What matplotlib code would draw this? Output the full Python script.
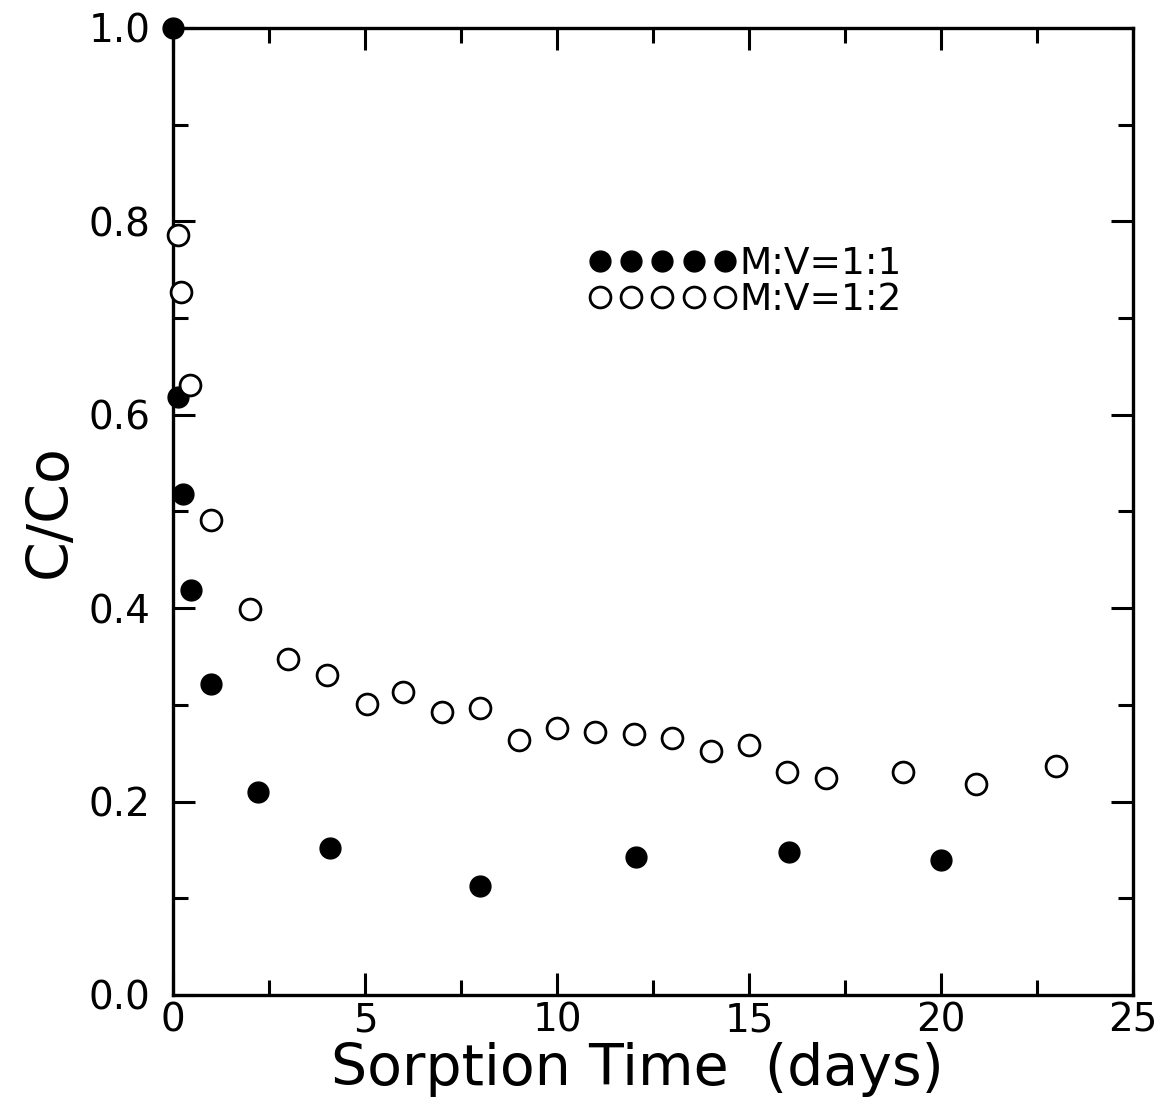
import matplotlib
matplotlib.use("Agg")
import matplotlib.pyplot as plt
from matplotlib.ticker import MultipleLocator

# M:V = 1:1 (filled circles)
days_11 = [0.0, 0.13, 0.26, 0.47, 1.0, 2.2, 4.1, 8.0, 12.05, 16.05, 20.0]
conc_11 = [1.0, 0.618, 0.518, 0.419, 0.322, 0.21, 0.152, 0.113, 0.143, 0.148, 0.14]

# M:V = 1:2 (open circles)
days_12 = [0.13, 0.2, 0.44, 1.0, 2.0, 3.0, 4.0, 5.05, 6.0, 7.0, 8.0, 9.0, 10.0,
           11.0, 12.0, 13.0, 14.0, 15.0, 16.0, 17.0, 19.0, 20.9, 23.0]
conc_12 = [0.786, 0.727, 0.631, 0.491, 0.399, 0.347, 0.331, 0.301, 0.313, 0.293,
           0.297, 0.264, 0.276, 0.272, 0.27, 0.266, 0.252, 0.259, 0.231, 0.224,
           0.231, 0.218, 0.237]

plt.rcParams["font.family"] = "DejaVu Sans"

fig = plt.figure(figsize=(11.62, 11.09), dpi=100)
ax = fig.add_axes([0.1489, 0.1028, 0.8262, 0.872])

ax.plot(days_11, conc_11, "o", color="black", markersize=15, clip_on=False,
        label="M:V=1:1", zorder=3)
ax.plot(days_12, conc_12, "o", markerfacecolor="white", markeredgecolor="black",
        markeredgewidth=2, markersize=15, clip_on=False, label="M:V=1:2", zorder=3)

ax.set_xlim(0, 25)
ax.set_ylim(0, 1.0)
ax.xaxis.set_major_locator(MultipleLocator(5))
ax.xaxis.set_minor_locator(MultipleLocator(2.5))
ax.yaxis.set_major_locator(MultipleLocator(0.2))
ax.yaxis.set_minor_locator(MultipleLocator(0.1))
ax.set_yticklabels([f"{v:.1f}" for v in ax.get_yticks()])

ax.tick_params(which="both", direction="in", top=True, right=True, width=2.2)
ax.tick_params(which="major", length=16, labelsize=28)
ax.tick_params(which="minor", length=11)
ax.tick_params(axis="y", which="major", pad=16)
ax.tick_params(axis="x", which="major", pad=5)
for sp in ax.spines.values():
    sp.set_linewidth(2.4)

ax.set_xlabel("Sorption Time  (days)", fontsize=41)
ax.xaxis.set_label_coords(0.484, -0.049, transform=ax.transAxes)
ax.xaxis.label.set_va("top")
ax.set_ylabel("C/Co", fontsize=41, labelpad=8)

ax.legend(loc="upper left", bbox_to_anchor=(0.433, 0.7745), numpoints=5,
          handlelength=3.93, handletextpad=0.1, labelspacing=0.0,
          frameon=False, fontsize=27, borderpad=0, borderaxespad=0,
          markerscale=1.0)

fig.savefig("out.png", dpi=100)
